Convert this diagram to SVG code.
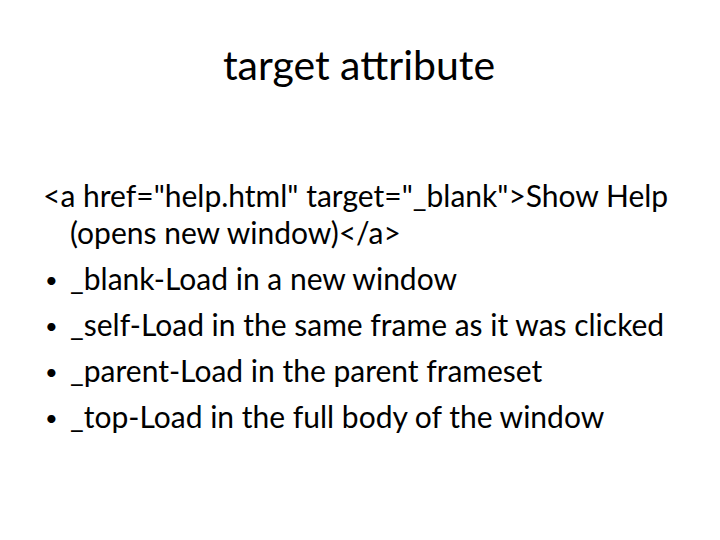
<svg xmlns="http://www.w3.org/2000/svg" width="720" height="540" viewBox="0 0 720 540">
<style>
text{font-family:Lato,"Open Sans",sans-serif;fill:#000}
.t{font-size:41px}
.b{font-size:30px}
.d{font-size:22px}
</style>
<rect width="720" height="540" fill="#fff"/>
<text class="t" x="359" y="80" text-anchor="middle">target attribute</text>
<g class="b">
<text x="43" y="207">&lt;a href="help.html" target="_blank"&gt;Show Help</text>
<text x="70" y="244">(opens new window)&lt;/a&gt;</text>
<text class="d" x="45" y="288">•</text><text x="70" y="290">_blank-Load in a new window</text>
<text class="d" x="45" y="334">•</text><text x="70" y="336">_self-Load in the same frame as it was clicked</text>
<text class="d" x="45" y="380">•</text><text x="70" y="382">_parent-Load in the parent frameset</text>
<text class="d" x="45" y="426">•</text><text x="70" y="428">_top-Load in the full body of the window</text>
</g>
</svg>
